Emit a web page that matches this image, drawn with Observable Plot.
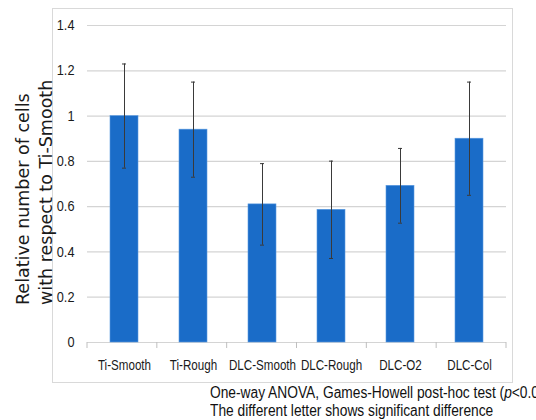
<!DOCTYPE html>
<html>
<head>
<meta charset="utf-8">
<script src="https://cdn.jsdelivr.net/npm/d3@7"></script>
<script src="https://cdn.jsdelivr.net/npm/@observablehq/plot@0.6"></script>
<style>
  html, body { margin: 0; padding: 0; background: #fff; }
  #wrap { position: relative; width: 536px; height: 420px; overflow: hidden; }
  #frame { position: absolute; left: 52px; top: 8px; width: 461px; height: 375px;
           border: 1px solid #d9d9d9; box-sizing: border-box; pointer-events: none; }
  #chart { position: absolute; left: 0; top: 0; }
  #caption { position: absolute; left: 210px; top: 384px; white-space: nowrap;
             font-family: "Liberation Sans", Arial, sans-serif;
             font-size: 16px; line-height: 18px; color: #111;
             transform: scaleX(0.86); transform-origin: 0 0; }
</style>
</head>
<body>
<div id="wrap">
  <div id="frame"></div>
  <div id="chart"></div>
  <div id="caption">One-way ANOVA, Games-Howell post-hoc test (<i>p</i>&lt;0.05)<br>The different letter shows significant difference</div>
</div>
<script>
// Surfaces tested
const groups = ["Ti-Smooth", "Ti-Rough", "DLC-Smooth", "DLC-Rough", "DLC-O2", "DLC-Col"];
// Mean cell count relative to Ti-Smooth
const means = [1.0, 0.94, 0.61, 0.586, 0.692, 0.90];
// Error (± around the mean)
const errors = [0.23, 0.21, 0.18, 0.215, 0.165, 0.25];
// Y-axis ticks
const yTicks = [0, 0.2, 0.4, 0.6, 0.8, 1, 1.2, 1.4];

const rows = groups.map((g, i) => ({group: g, mean: means[i], lo: means[i] - errors[i], hi: means[i] + errors[i]}));

const W = 536, H = 384;
const mL = 87, mR = 30, mT = 25, mB = 42;
const labelFont = '"Liberation Sans", Arial, sans-serif';

// Short ticks on the category boundaries below the baseline
function boundaryTicks(index, scales, values, dimensions) {
  const {width, height, marginLeft, marginRight, marginBottom} = dimensions;
  const step = (width - marginLeft - marginRight) / groups.length;
  const y0 = height - marginBottom;
  const g = d3.create("svg:g").attr("stroke", "#bfbfbf").attr("stroke-width", 1);
  for (let i = 0; i <= groups.length; i++) {
    const x = marginLeft + i * step;
    g.append("line").attr("x1", x).attr("x2", x).attr("y1", y0).attr("y2", y0 + 6);
  }
  return g.node();
}

const chart = Plot.plot({
  width: W,
  height: H,
  marginLeft: mL,
  marginRight: mR,
  marginTop: mT,
  marginBottom: mB,
  style: {fontFamily: labelFont, fontSize: "14px", color: "#1a1a1a", background: "transparent"},
  x: {domain: groups, paddingInner: 0.6, paddingOuter: 0.3, label: null},
  y: {domain: [0, 1.4], label: null},
  marks: [
    Plot.gridY(yTicks, {stroke: "#d4d4d4", strokeOpacity: 1, strokeWidth: 1.2}),
    Plot.ruleX([0], {frameAnchor: "left", stroke: "#bfbfbf", strokeWidth: 1}),
    boundaryTicks,
    Plot.barY(rows, {x: "group", y: "mean", fill: "#1a6cc8", stroke: "#5b9be0", strokeWidth: 0.6}),
    Plot.ruleX(rows, {x: "group", y1: "lo", y2: "hi", stroke: "#3a3a3a", strokeWidth: 1}),
    Plot.tickY(rows, {x: "group", y: "lo", stroke: "#3a3a3a", insetLeft: 12, insetRight: 12}),
    Plot.tickY(rows, {x: "group", y: "hi", stroke: "#3a3a3a", insetLeft: 12, insetRight: 12}),
    Plot.axisY(yTicks, {tickSize: 0, tickPadding: 13, label: null, tickFormat: d => String(d), fontSize: 14.5}),
    Plot.axisX({tickSize: 0, tickPadding: 17, label: null, fontSize: 14.5}),
    Plot.text(["Relative number of cells\nwith respect to Ti-Smooth"], {
      frameAnchor: "left", rotate: -90, dx: -54, dy: 121, lineAnchor: "middle", textAnchor: "start",
      fontFamily: '"DejaVu Sans", sans-serif', fontSize: 17.5, fill: "#1a1a1a", lineHeight: 1.3
    })
  ]
});

// Narrow the tick label glyphs horizontally (condensed look)
function condense(selector, k) {
  d3.select(chart).selectAll(selector).each(function () {
    const t = this.getAttribute("transform");
    if (t) {
      this.setAttribute("transform", t + ` scale(${k},1)`);
    } else {
      const x = +this.getAttribute("x") || 0, y = +this.getAttribute("y") || 0;
      this.removeAttribute("x"); this.removeAttribute("y");
      this.setAttribute("transform", `translate(${x},${y}) scale(${k},1)`);
    }
  });
}
condense('g[aria-label="x-axis tick label"] text', 0.8);
condense('g[aria-label="y-axis tick label"] text', 0.88);

document.getElementById("chart").appendChild(chart);
</script>
</body>
</html>
